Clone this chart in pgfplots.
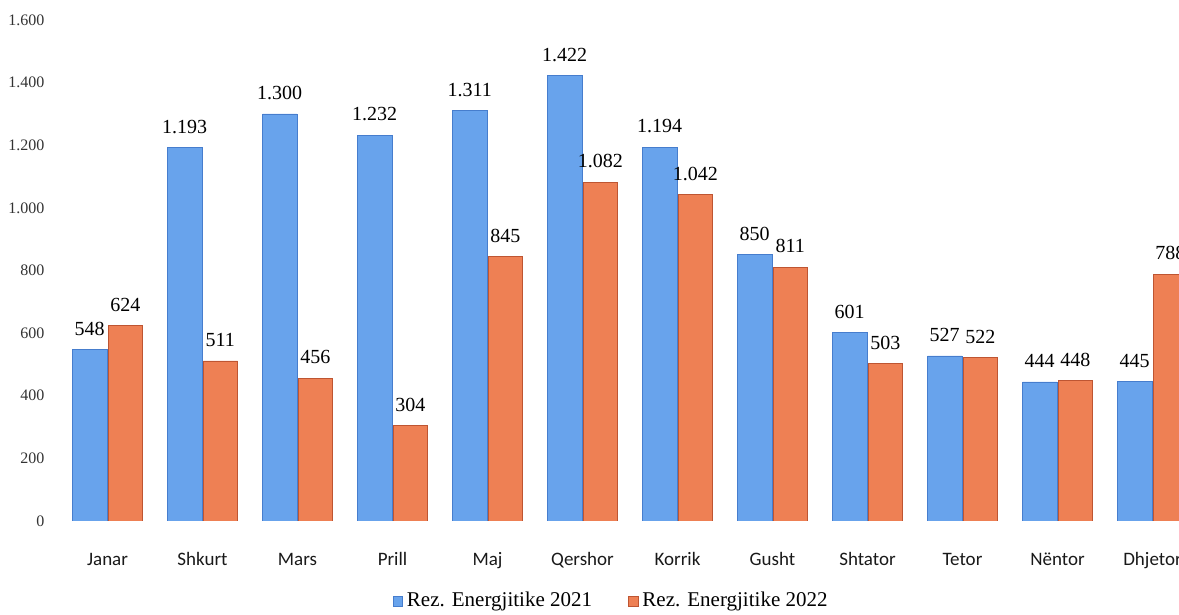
\documentclass[border=0pt]{standalone}
\usepackage{fontspec}
\setmainfont{Liberation Serif}
\newfontfamily\calfont{Carlito}
\usepackage{pgfplots}
\pgfplotsset{compat=1.18}
\definecolor{blueF}{RGB}{104,163,236}
\definecolor{blueE}{RGB}{70,125,205}
\definecolor{orF}{RGB}{238,128,84}
\definecolor{orE}{RGB}{190,85,50}
\begin{document}
\begin{tikzpicture}
\path[use as bounding box] (-27.5pt,-47pt) rectangle (562pt,260.5pt);
\begin{axis}[
  scale only axis, width=562pt, height=250.5pt,
  xmin=-0.553, xmax=11.279, ymin=0, ymax=1600,
  ybar=0.6pt, bar width=17.2pt,
  axis line style={draw=none}, tick style={draw=none},
  xtick={0,...,11},
  xticklabels={Janar,Shkurt,Mars,Prill,Maj,Qershor,Korrik,Gusht,Shtator,Tetor,N\"entor,Dhjetor},
  xticklabel style={font=\calfont\fontsize{9.5}{11}\selectfont, text=black!90, anchor=base, yshift=-18pt},
  ytick={0,200,...,1600},
  yticklabel style={font=\fontsize{8}{9}\selectfont, text=black!80, xshift=-1.8pt},
  /pgf/number format/1000 sep={.},
  /pgf/number format/assume math mode=true,
  nodes near coords,
  every node near coord/.append style={font=\fontsize{10}{12}\selectfont, text=black, yshift=3.5pt},
  legend style={at={(0.4956,-0.16)}, anchor=center, draw=none, fill=none,
    legend columns=2, font=\fontsize{10.5}{12}\selectfont,
    /tikz/every even column/.append style={column sep=16pt}},
  legend image code/.code={\draw[#1] (0pt,-2.4pt) rectangle (4.8pt,2.4pt);},
]
\addplot[draw=blueE, line width=0.4pt, fill=blueF]
 coordinates {(0,548) (1,1193) (2,1300) (3,1232) (4,1311) (5,1422) (6,1194) (7,850) (8,601) (9,527) (10,444) (11,445)};
\addplot[draw=orE, line width=0.4pt, fill=orF]
 coordinates {(0,624) (1,511) (2,456) (3,304) (4,845) (5,1082) (6,1042) (7,811) (8,503) (9,522) (10,448) (11,788)};
\legend{Rez. Energjitike 2021, Rez. Energjitike 2022}
\end{axis}
\end{tikzpicture}
\end{document}
